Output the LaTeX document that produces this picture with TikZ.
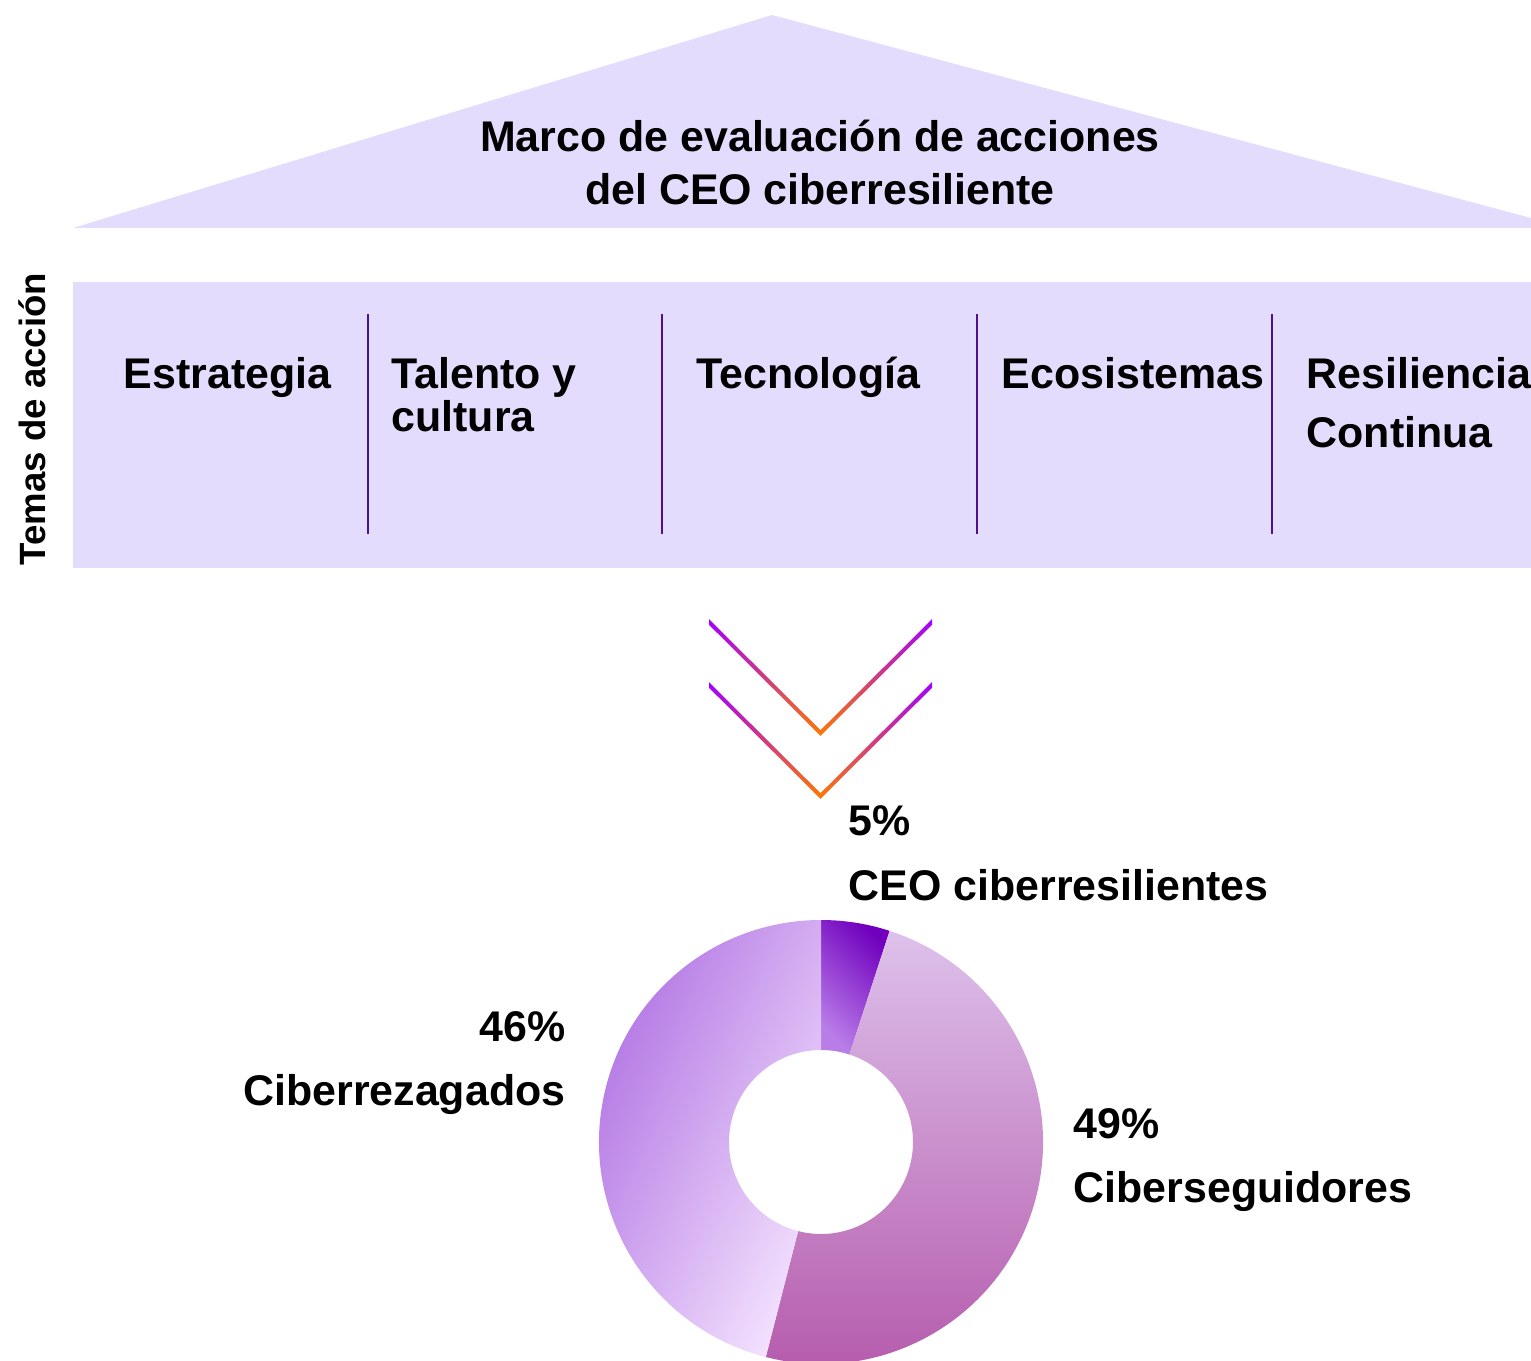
\documentclass[tikz,border=0pt]{standalone}
\usepackage{fontspec}
\setmainfont{Liberation Sans}
\usetikzlibrary{calc}
\definecolor{lav}{RGB}{228,220,253}
\definecolor{divpurple}{RGB}{80,16,140}
\definecolor{chevtop}{RGB}{161,0,255}
\definecolor{chevbot}{RGB}{255,120,0}
\tikzset{
  lbl/.style={inner sep=0, font=\fontsize{12.2}{14}\selectfont\bfseries},
  divider/.style={divpurple, line width=0.8pt},
  chevron/.style={top color=chevtop, bottom color=chevbot},
}

\begin{document}
\begin{tikzpicture}[x=0.01cm, y=0.01cm]
\useasboundingbox (0,0) rectangle (1531,1360);
\clip (0,0) rectangle (1531,1360);
% roof and body
\fill[lav] (73,1132) -- (772,1345) -- (1531,1142) -- (1531,1132) -- cycle;
\fill[lav] (73,792) rectangle (1531,1078);
\foreach \x in {368,662,977,1272}
  \draw[divider] (\x,826) -- (\x,1046);
\node[lbl, anchor=base] (title1) at (820,1208) {Marco de evaluación de acciones};
\node[lbl, anchor=base] (title2) at (820,1155) {del CEO ciberresiliente};
\node[lbl, font=\fontsize{10.4}{12}\selectfont\bfseries, rotate=90, anchor=base] (temas) at (45,941) {Temas de acción};
\node[lbl, anchor=base west] (estr) at (123,971) {Estrategia};
\node[lbl, anchor=base west] (tal1) at (391,971) {Talento y};
\node[lbl, anchor=base west] (tal2) at (391,928) {cultura};
\node[lbl, anchor=base west] (tecn) at (696,971) {Tecnología};
\node[lbl, anchor=base west] (ecos) at (1001,971) {Ecosistemas};
\node[lbl, anchor=base west] (res1) at (1306,971) {Resiliencia};
\node[lbl, anchor=base west] (res2) at (1306,912) {Continua};
% chevrons
\foreach \y in {738,675}
  \shade[chevron] (709,\y+2.8) -- (820.5,\y-111+2.8) -- (932,\y+2.8) -- (932,\y-2.8)
    -- (820.5,\y-111-2.8) -- (709,\y-2.8) -- cycle;
% donut
\begin{scope}[shift={(821,218)}]
\def\ro{222}
\def\ri{92}
\shade[top color={rgb,255:red,112;green,0;blue,190}, bottom color={rgb,255:red,185;green,125;blue,232}, shading angle=-45]
  (90:\ro) arc[start angle=90, end angle=72, radius=\ro] -- (72:\ri) arc[start angle=72, end angle=90, radius=\ri] -- cycle;
\shade[top color={rgb,255:red,221;green,193;blue,235}, bottom color={rgb,255:red,180;green,88;blue,170}]
  (72:\ro) arc[start angle=72, end angle=-104.4, radius=\ro] -- (-104.4:\ri) arc[start angle=-104.4, end angle=72, radius=\ri] -- cycle;
\shade[top color={rgb,255:red,174;green,110;blue,226}, bottom color={rgb,255:red,242;green,224;blue,253}, shading angle=64]
  (-104.4:\ro) arc[start angle=-104.4, end angle=-270, radius=\ro] -- (90:\ri) arc[start angle=-270, end angle=-104.4, radius=\ri] -- cycle;
\end{scope}
\node[lbl, anchor=base west] (p5) at (848,525) {5\%};
\node[lbl, anchor=base west] (ceo) at (848,460) {CEO ciberresilientes};
\node[lbl, anchor=base east] (p46) at (566,319) {46\%};
\node[lbl, anchor=base east] (rez) at (566,255) {Ciberrezagados};
\node[lbl, anchor=base west] (p49) at (1073,222) {49\%};
\node[lbl, anchor=base west] (sgd) at (1073,158) {Ciberseguidores};
\end{tikzpicture}
\end{document}
